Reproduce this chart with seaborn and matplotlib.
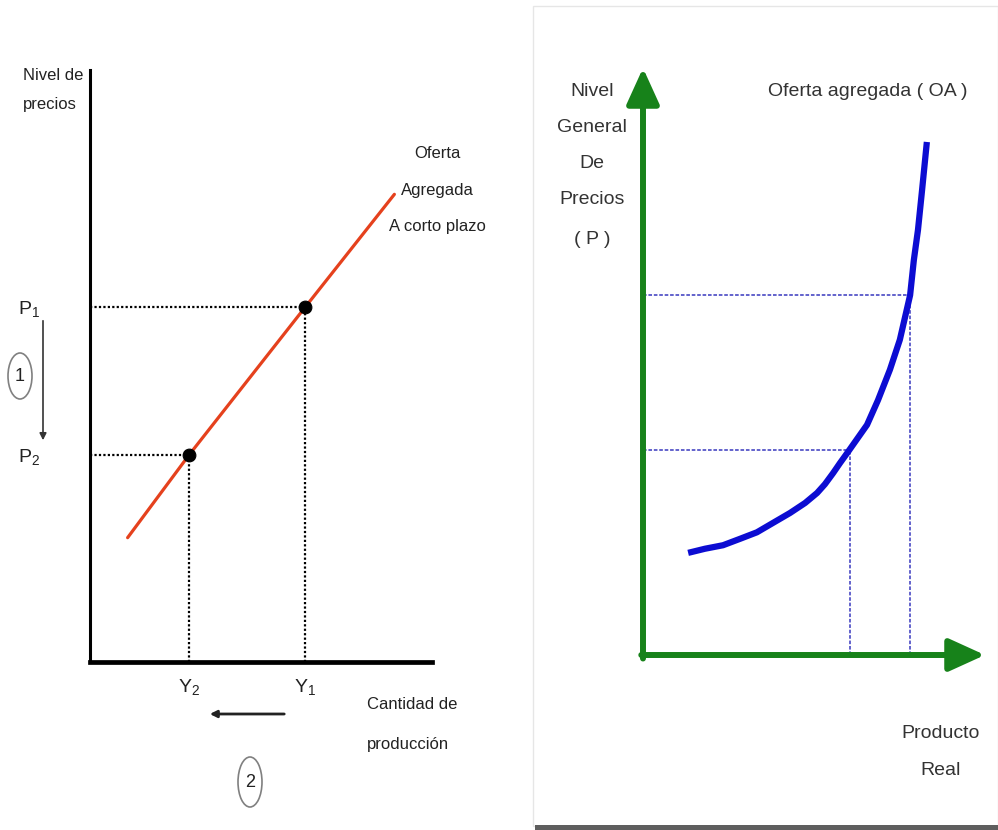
import matplotlib.pyplot as plt
from matplotlib.patches import Ellipse, Rectangle, FancyArrowPatch
import seaborn as sns

# Left panel: short-run aggregate supply (arbitrary units 0-10)
supply_q = [1.1, 2.9, 6.3, 8.9]
supply_p = [2.1, 3.5, 6.0, 7.9]
eq_q = [2.9, 6.3]          # Y2, Y1
eq_p = [3.5, 6.0]          # P2, P1
q_labels = ['Y$_2$', 'Y$_1$']
p_labels = ['P$_2$', 'P$_1$']

# Right panel: aggregate supply curve (OA)
oa_q = [1.32, 1.81, 2.34, 2.84, 3.33, 3.80, 4.30, 4.74, 5.09, 5.32, 5.56, 5.76, 5.97,
        6.55, 6.87, 7.22, 7.51, 7.81, 7.92, 8.04, 8.16, 8.30]
oa_p = [1.74, 1.81, 1.87, 1.98, 2.09, 2.25, 2.42, 2.59, 2.76, 2.91, 3.10, 3.27, 3.44,
        3.92, 4.34, 4.86, 5.37, 6.13, 6.73, 7.24, 7.92, 8.74]
oa_eq_q = [6.05, 7.81]
oa_eq_p = [3.5, 6.13]

sns.set_theme(style='white')
plt.rcParams['font.family'] = ['Liberation Sans', 'DejaVu Sans']
plt.rcParams['mathtext.fontset'] = 'custom'
plt.rcParams['mathtext.rm'] = 'Liberation Sans'
plt.rcParams['mathtext.it'] = 'Liberation Sans'

W, H = 998, 830
fig = plt.figure(figsize=(W / 100, H / 100), dpi=100)


def fx(x):
    return x / W


def fy(y):
    return 1 - y / H


def text_lines(x, ys, texts, **kw):
    for y, t in zip(ys, texts):
        fig.text(fx(x), fy(y), t, va='center', **kw)


# ---- left panel ----
ax1 = fig.add_axes([fx(90), fy(662), (432 - 90) / W, (662 - 70) / H])
ax1.set_xlim(0, 10)
ax1.set_ylim(0, 10)
for s in ['top', 'right']:
    ax1.spines[s].set_visible(False)
ax1.spines['left'].set_linewidth(2.2)
ax1.spines['bottom'].set_linewidth(3.4)
ax1.spines['left'].set_color('black')
ax1.spines['bottom'].set_color('black')

ax1.hlines(eq_p, 0, eq_q, colors='black', linestyles=(0, (1, 1)), lw=1.6)
ax1.vlines(eq_q, 0, eq_p, colors='black', linestyles=(0, (1, 1)), lw=1.6)
sns.lineplot(x=supply_q, y=supply_p, sort=False, color='#e5411d', lw=2.3, ax=ax1)
sns.scatterplot(x=eq_q, y=eq_p, color='black', s=85, edgecolor='black', zorder=5, ax=ax1)

ax1.set_xticks(eq_q, q_labels, fontsize=14, color='#222222')
ax1.set_yticks(eq_p, p_labels, fontsize=14, color='#222222')
ax1.tick_params(axis='x', length=0, pad=11)
ax1.tick_params(axis='y', length=0, pad=36)

dark = '#222222'
text_lines(23, [75, 105], ['Nivel de', 'precios'], fontsize=12, color=dark, ha='left')
text_lines(437, [154, 190, 227], ['Oferta', 'Agregada', 'A corto plazo'], fontsize=12, color=dark, ha='center')
text_lines(367, [704, 744], ['Cantidad de', 'producción'], fontsize=12, color=dark, ha='left')

fig.add_artist(Ellipse((fx(20), fy(376)), 24 / W, 46 / H, transform=fig.transFigure,
                       fill=False, ec='#808080', lw=1.2))
fig.text(fx(20), fy(376), '1', fontsize=13, ha='center', va='center', color=dark)
fig.add_artist(Ellipse((fx(250), fy(782)), 24 / W, 50 / H, transform=fig.transFigure,
                       fill=False, ec='#808080', lw=1.2))
fig.text(fx(250), fy(782), '2', fontsize=13, ha='center', va='center', color=dark)

fig.add_artist(FancyArrowPatch((fx(43), fy(318)), (fx(43), fy(443)), transform=fig.transFigure,
                               arrowstyle='-|>', mutation_scale=10, lw=1.2, color='#333333'))
fig.add_artist(FancyArrowPatch((fx(287), fy(714)), (fx(207), fy(714)), transform=fig.transFigure,
                               arrowstyle='-|>', mutation_scale=10, lw=2, color=dark))

# ---- right panel ----
fig.add_artist(Rectangle((fx(533), fy(826)), (W - 533) / W, (826 - 6) / H, transform=fig.transFigure,
                         fill=False, ec='#e6e6e6', lw=1))
fig.add_artist(Rectangle((fx(535), fy(830)), (W - 535) / W, 5 / H, transform=fig.transFigure,
                         color='#5e5e5e', lw=0))

ax2 = fig.add_axes([fx(643), fy(655), (985 - 643) / W, (655 - 68) / H])
ax2.set_xlim(0, 10)
ax2.set_ylim(0, 10)
ax2.axis('off')

green = '#17821a'
for start, end in [((0, -0.006), (0, 1)), ((-0.005, 0), (1, 0))]:
    ax2.annotate('', xy=end, xytext=start, xycoords='axes fraction', textcoords='axes fraction',
                 arrowprops=dict(arrowstyle='-|>,head_length=1.1,head_width=0.5', color=green, lw=4.3,
                                 shrinkA=0, shrinkB=0, mutation_scale=20))

ax2.hlines(oa_eq_p, 0, oa_eq_q, colors='#5656c8', linestyles=(0, (2, 1)), lw=1.3)
ax2.vlines(oa_eq_q, 0, oa_eq_p, colors='#5656c8', linestyles=(0, (2, 1)), lw=1.3)
sns.lineplot(x=oa_q, y=oa_p, sort=False, color='#0c0cd2', lw=4.5, ax=ax2)
ax2.lines[-1].set_solid_joinstyle('round')
ax2.lines[-1].set_solid_capstyle('butt')

grey = '#333333'
text_lines(592, [91, 127, 163, 199, 239], ['Nivel', 'General', 'De', 'Precios', '( P )'],
           fontsize=14, color=grey, ha='center')
text_lines(768, [92], ['Oferta agregada ( OA )'], fontsize=14, color=grey, ha='left')
text_lines(941, [733, 770], ['Producto', 'Real'], fontsize=14, color=grey, ha='center')

fig.savefig('out.png', dpi=100)
